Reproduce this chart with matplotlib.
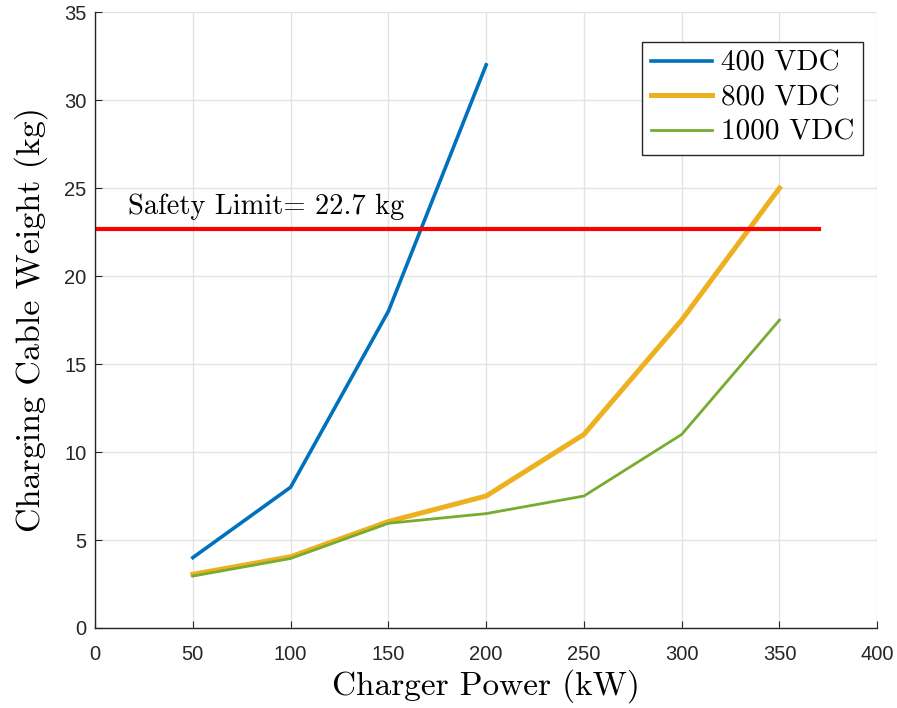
import matplotlib.pyplot as plt

# charger power (kW) and cable weight (kg) per system voltage
power_400 = [50, 100, 150, 200]
weight_400 = [4, 8, 18, 32]
power_800 = [50, 100, 150, 200, 250, 300, 350]
weight_800 = [3.05, 4.05, 6.05, 7.5, 11, 17.5, 25]
power_1000 = [50, 100, 150, 200, 250, 300, 350]
weight_1000 = [2.95, 3.95, 5.95, 6.5, 7.5, 11, 17.5]

safety_limit = 22.7
limit_span = [0, 370]

serif = 'cmr10'

fig = plt.figure(figsize=(8.97, 7.08), dpi=100)
ax = fig.add_axes([0.106, 0.113, 0.872, 0.870])

ax.plot(power_400, weight_400, color='#0072BD', lw=2.6, label='400 VDC')
ax.plot(power_800, weight_800, color='#EDB120', lw=3.6, label='800 VDC')
ax.plot(power_1000, weight_1000, color='#77AC30', lw=2.0, label='1000 VDC')
ax.plot(limit_span, [safety_limit, safety_limit], color='#FF0000', lw=3.0)
ax.text(17, safety_limit + 0.5, 'Safety Limit= %.1f kg' % safety_limit,
        fontfamily=serif, fontsize=20.5, va='bottom', ha='left')

ax.set_xlim(0, 400)
ax.set_ylim(0, 35)
ax.set_xticks(range(0, 401, 50))
ax.set_yticks(range(0, 36, 5))
ax.grid(True, color='#e3e3e3', lw=1.0)
ax.set_axisbelow(True)

for side in ['top', 'right']:
    ax.spines[side].set_visible(False)
for side in ['left', 'bottom']:
    ax.spines[side].set_color('#262626')
    ax.spines[side].set_linewidth(1.0)
ax.tick_params(direction='in', length=5, color='#262626', labelsize=14.5,
               labelcolor='#262626')
ax.tick_params(axis='x', pad=12)
ax.tick_params(axis='y', pad=6)
for lab in ax.get_xticklabels() + ax.get_yticklabels():
    lab.set_fontfamily('Liberation Sans')

ax.set_xlabel('Charger Power (kW)', fontfamily=serif, fontsize=24, labelpad=4)
ax.set_ylabel('Charging Cable Weight (kg)', fontfamily=serif, fontsize=24.5, labelpad=12)

leg = ax.legend(loc='upper right', bbox_to_anchor=(0.9815, 0.952),
                prop={'family': serif, 'size': 21}, handlelength=2.1,
                handletextpad=0.3, borderpad=0.3, labelspacing=0.28,
                borderaxespad=0, fancybox=False, framealpha=1)
leg.get_frame().set_edgecolor('#262626')
leg.get_frame().set_linewidth(1.0)

fig.savefig('out.png', dpi=100)
